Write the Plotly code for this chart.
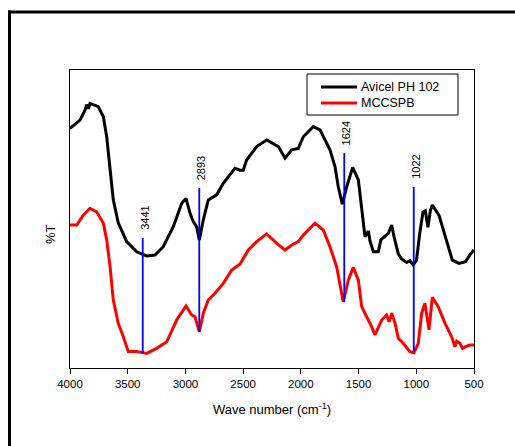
import plotly.graph_objects as go

# Avicel PH 102 (black) - wave number (cm-1) and relative transmittance
avicel_wn = [4000, 3913, 3870, 3856, 3840, 3827, 3755, 3711, 3682, 3653, 3625, 3582, 3509, 3422, 3336, 3264,
             3192, 3105, 3032, 2995, 2960, 2932, 2903, 2880, 2845, 2802, 2729, 2672, 2614, 2571,
             2527, 2499, 2470, 2383, 2296, 2239, 2195, 2137, 2079, 2022, 1979, 1892, 1834, 1748,
             1704, 1676, 1641, 1603, 1551, 1502, 1473, 1444, 1415, 1401, 1372, 1329, 1307, 1242,
             1213, 1193, 1156, 1127, 1083, 1055, 1026, 998, 970, 942, 921, 899, 878, 861, 803, 745, 688, 630,
             573, 530, 500]
avicel_t = [80.4, 83.2, 86.5, 88.4, 87.0, 88.8, 87.7, 84.3, 77.6, 66.4, 56.4, 48.7, 42.4, 39.0, 37.6, 37.9,
            40.7, 47.4, 55.3, 56.9, 51.9, 49.1, 47.4, 43.0, 49.7, 56.4, 58.1, 62.0, 64.8, 67.0,
            66.4, 66.4, 69.8, 74.3, 76.5, 75.4, 74.3, 70.4, 73.2, 73.7, 77.6, 81.0, 79.9, 73.2,
            67.6, 60.8, 55.0, 60.8, 67.3, 63.1, 54.1, 44.0, 46.0, 42.6, 39.0, 39.0, 43.0, 45.2,
            48.0, 44.1, 38.3, 36.6, 35.4, 36.0, 34.6, 36.2, 45.2, 52.3, 52.8, 47.2, 52.8, 54.7, 51.2, 43.4, 36.2, 35.1,
            35.7, 38.3, 39.6]

# MCCSPB (red)
mcc_wn = [4000, 3942, 3885, 3827, 3769, 3711, 3682, 3653, 3625, 3582, 3538, 3495, 3422, 3336,
          3249, 3162, 3076, 2995, 2946, 2917, 2880, 2845, 2802, 2744, 2672, 2599, 2527, 2455,
          2383, 2296, 2209, 2137, 2079, 2022, 1979, 1878, 1806, 1748, 1690, 1661, 1633, 1589,
          1546, 1502, 1473, 1430, 1387, 1358, 1329, 1300, 1257, 1235, 1213, 1184, 1156, 1113, 1055,
          1020, 983, 953, 925, 890, 861, 810, 751, 694, 665, 650, 622, 600, 578, 535, 500]
mcc_t = [48.0, 48.0, 51.3, 53.6, 52.4, 48.6, 43.0, 34.0, 22.8, 15.0, 10.5, 5.5, 5.5, 4.9,
         6.6, 8.8, 16.1, 20.8, 17.8, 17.2, 12.2, 18.4, 22.8, 25.1, 28.4, 32.9, 34.9, 39.6,
         42.4, 45.0, 41.8, 39.6, 41.3, 42.4, 44.6, 48.6, 46.3, 40.7, 34.0, 27.3, 22.2, 29.5,
         33.8, 29.5, 20.6, 17.2, 13.9, 11.1, 13.9, 16.1, 17.8, 15.5, 18.4, 15.0, 10.0, 8.3, 5.5,
         5.1, 8.3, 18.4, 21.7, 12.8, 23.7, 20.6, 15.0, 10.5, 7.1, 9.0, 8.3, 6.6, 7.1, 7.7, 7.7]

# Peak markers
peak_pos = [3370, 2880, 1624, 1022]
peak_labels = ["3441", "2893", "1624", "1022"]
peak_top = [43.6, 60.4, 72.1, 60.7]
peak_bottom = [5.0, 12.1, 22.1, 5.7]

x_ticks = [4000, 3500, 3000, 2500, 2000, 1500, 1000, 500]

series_names = ["Avicel PH 102", "MCCSPB"]
series_colors = ["black", "red"]

FONT = "Liberation Sans, Arial"

fig = go.Figure()
fig.add_trace(go.Scatter(x=avicel_wn, y=avicel_t, mode="lines", name=series_names[0],
                         line=dict(color=series_colors[0], width=3), showlegend=False))
fig.add_trace(go.Scatter(x=mcc_wn, y=mcc_t, mode="lines", name=series_names[1],
                         line=dict(color=series_colors[1], width=3), showlegend=False))

for p, lab, t, b in zip(peak_pos, peak_labels, peak_top, peak_bottom):
    fig.add_shape(type="line", xref="x", yref="y", x0=p, x1=p, y0=b, y1=t,
                  line=dict(color="blue", width=1.8))
    fig.add_annotation(x=p, y=t, xref="x", yref="y", text=lab, showarrow=False,
                       textangle=-90, yanchor="bottom", xanchor="center", yshift=6, xshift=2,
                       font=dict(family=FONT, size=11, color="black"))

# pixel -> paper helpers (plot area: x 70..474, y 70..368 in window pixels)
def px(x):
    return (x - 70) / 404

def py(y):
    return (368 - y) / 298

# outer frame: only its left and top edges are visible
fig.add_shape(type="line", xref="paper", yref="paper",
              x0=px(9.5), x1=px(9.5), y0=py(480), y1=py(10.5),
              line=dict(color="black", width=3), layer="below")
fig.add_shape(type="line", xref="paper", yref="paper",
              x0=px(8), x1=px(540), y0=py(12), y1=py(12),
              line=dict(color="black", width=3), layer="below")

# legend drawn by hand
fig.add_shape(type="rect", xref="paper", yref="paper",
              x0=px(307), x1=px(458), y0=py(115), y1=py(74),
              line=dict(color="black", width=1), fillcolor="white")
for i, (nm, col) in enumerate(zip(series_names, series_colors)):
    yy = 87 + 16 * i
    fig.add_shape(type="line", xref="paper", yref="paper",
                  x0=px(321), x1=px(357), y0=py(yy), y1=py(yy),
                  line=dict(color=col, width=3))
    fig.add_annotation(x=px(359), y=py(yy), xref="paper", yref="paper", text=nm,
                       showarrow=False, xanchor="left", yanchor="middle",
                       font=dict(family=FONT, size=12.5, color="black"))

fig.add_annotation(x=px(50), y=py(234), xref="paper", yref="paper",
                   text="%T", showarrow=False, textangle=-90,
                   xanchor="center", yanchor="middle",
                   font=dict(family=FONT, size=13, color="black"))

fig.update_layout(
    width=515, height=446,
    margin=dict(l=70, r=41, t=70, b=78),
    paper_bgcolor="white", plot_bgcolor="white",
    font=dict(family=FONT, color="black"),
    showlegend=False,
    xaxis=dict(range=[4000, 500], tickvals=x_ticks, ticks="outside", ticklen=5,
               tickcolor="black", showline=True, linecolor="black", linewidth=1,
               mirror=True, showgrid=False, zeroline=False,
               tickfont=dict(size=11.5, color="black"),
               title=dict(text="Wave number (cm<sup>-1</sup>)", font=dict(size=13, color="black"),
                          standoff=16)),
    yaxis=dict(range=[0, 100], showticklabels=False, ticks="", showline=True,
               linecolor="black", linewidth=1, mirror=True, showgrid=False, zeroline=False),
)

# remove the default page margin so the figure fills the window exactly
page_fix = ("document.documentElement.style.margin='0';document.body.style.margin='0';"
            "document.documentElement.style.overflow='hidden';document.body.style.overflow='hidden';")
fig.write_html("out.html", post_script=page_fix, config={"displayModeBar": False})
